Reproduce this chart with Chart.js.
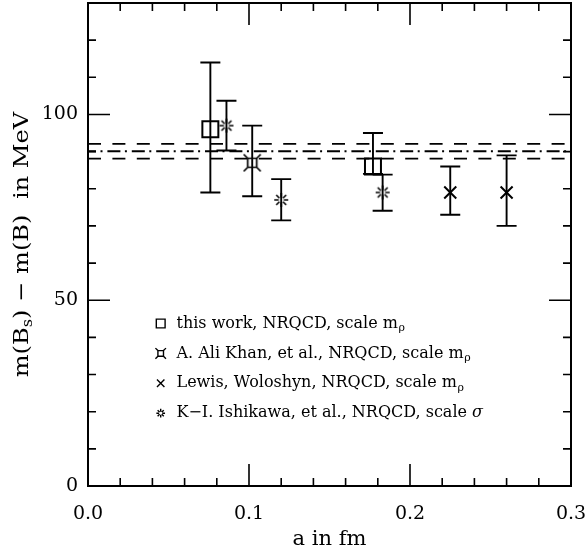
<!DOCTYPE html>
<html>
<head>
<meta charset="utf-8">
<script src="https://cdn.jsdelivr.net/npm/chart.js@4"></script>
<style>
  body { margin: 0; background: #fff; }
  #wrap { width: 588px; height: 555px; position: relative; }
</style>
</head>
<body>
<div id="wrap"><canvas id="chart"></canvas></div>
<script>
// m(Bs) - m(B) in MeV against lattice spacing a in fm
const thisWorkA = [0.076, 0.177];
const thisWorkVal = [96, 86];
const thisWorkHi = [114, 95];
const thisWorkLo = [79, 84];

const aliKhanA = [0.102];
const aliKhanVal = [87];
const aliKhanHi = [97];
const aliKhanLo = [78];

const lewisA = [0.225, 0.260];
const lewisVal = [79, 79];
const lewisHi = [86, 89];
const lewisLo = [73, 70];

const ishikawaA = [0.086, 0.120, 0.183];
const ishikawaVal = [97, 77, 79];
const ishikawaHi = [103.7, 82.6, 83.8];
const ishikawaLo = [90.3, 71.5, 74.1];

// experimental value with its band
const bandA = [0, 0.3];
const bandCentre = 90.1;
const bandHi = 92.1;
const bandLo = 88.1;

const legendLabels = [
    'this work, NRQCD, scale m',
    'A. Ali Khan, et al., NRQCD, scale m',
    'Lewis, Woloshyn, NRQCD, scale m',
    'K\u2212I. Ishikawa, et al., NRQCD, scale '
];
const legendSubs = ['\u03c1', '\u03c1', '\u03c1', ''];
const legendTails = ['', '', '', '\u03c3'];
const legendKinds = ['square', 'khan', 'cross', 'star'];

const xTitle = 'a in fm';
const yTitleParts = ['m(B', 's', ') \u2212 m(B)  in MeV'];

const xMajor = 0.1, xMinor = 0.02;
const yMajor = 50, yMinor = 10;

const FONT = 'DejaVu Serif';

function isMajor(v, step) {
    return Math.abs(v / step - Math.round(v / step)) < 1e-6;
}

function points(a, val, lo, hi) {
    return a.map((x, i) => ({ x, y: val[i], yMin: lo[i], yMax: hi[i] }));
}

function drawMarker(ctx, kind, x, y, s) {
    ctx.beginPath();
    if (kind === 'square') {
        ctx.rect(x - 8 * s, y - 8 * s, 16 * s, 16 * s);
    } else if (kind === 'khan') {
        const h = 4.5 * s, o = 8.5 * s;
        ctx.rect(x - h, y - h, 2 * h, 2 * h);
        [[-1, -1], [1, -1], [1, 1], [-1, 1]].forEach(([dx, dy]) => {
            ctx.moveTo(x + dx * h, y + dy * h);
            ctx.lineTo(x + dx * o, y + dy * o);
        });
    } else if (kind === 'cross') {
        const h = 6 * s;
        ctx.moveTo(x - h, y - h); ctx.lineTo(x + h, y + h);
        ctx.moveTo(x + h, y - h); ctx.lineTo(x - h, y + h);
    } else if (kind === 'star') {
        for (let k = 0; k < 8; k++) {
            const t = k * Math.PI / 4;
            ctx.moveTo(x + Math.cos(t) * 2.5 * s, y + Math.sin(t) * 2.5 * s);
            ctx.lineTo(x + Math.cos(t) * 7 * s, y + Math.sin(t) * 7 * s);
        }
    }
    ctx.stroke();
}

function markerCanvas(kind, width) {
    const c = document.createElement('canvas');
    c.width = 24;
    c.height = 24;
    const ctx = c.getContext('2d');
    ctx.strokeStyle = '#000';
    ctx.lineWidth = width;
    drawMarker(ctx, kind, 12, 12, 1);
    return c;
}

// frame with inward ticks on all four sides
const frame = {
    id: 'frame',
    beforeDatasetsDraw(chart) {
        const { ctx, chartArea: a, scales: { x, y } } = chart;
        ctx.save();
        ctx.strokeStyle = '#000';
        ctx.lineWidth = 2;
        ctx.strokeRect(a.left, a.top, a.right - a.left, a.bottom - a.top);
        ctx.lineWidth = 1.6;
        ctx.beginPath();
        x.ticks.forEach(t => {
            const px = x.getPixelForValue(t.value);
            const len = isMajor(t.value, xMajor) ? 22 : 8;
            ctx.moveTo(px, a.bottom); ctx.lineTo(px, a.bottom - len);
            ctx.moveTo(px, a.top); ctx.lineTo(px, a.top + len);
        });
        y.ticks.forEach(t => {
            const py = y.getPixelForValue(t.value);
            const len = isMajor(t.value, yMajor) ? 22 : 8;
            ctx.moveTo(a.left, py); ctx.lineTo(a.left + len, py);
            ctx.moveTo(a.right, py); ctx.lineTo(a.right - len, py);
        });
        ctx.stroke();
        ctx.restore();
    }
};

const errorBars = {
    id: 'errorBars',
    afterDatasetsDraw(chart) {
        const { ctx, scales: { x, y } } = chart;
        ctx.save();
        ctx.strokeStyle = '#000';
        ctx.lineWidth = 1.9;
        chart.data.datasets.forEach(ds => {
            if (!ds.errorBars) return;
            ds.data.forEach(p => {
                const px = x.getPixelForValue(p.x);
                const top = y.getPixelForValue(p.yMax);
                const bot = y.getPixelForValue(p.yMin);
                ctx.beginPath();
                ctx.moveTo(px, top); ctx.lineTo(px, bot);
                ctx.moveTo(px - 10, top); ctx.lineTo(px + 10, top);
                ctx.moveTo(px - 10, bot); ctx.lineTo(px + 10, bot);
                ctx.stroke();
            });
        });
        ctx.restore();
    }
};

const legendBox = {
    id: 'legendBox',
    afterDraw(chart) {
        const ctx = chart.ctx;
        ctx.save();
        ctx.strokeStyle = '#000';
        ctx.fillStyle = '#000';
        ctx.textBaseline = 'middle';
        legendLabels.forEach((text, i) => {
            const y = 323.5 + i * 29.9;
            ctx.lineWidth = 1.4;
            drawMarker(ctx, legendKinds[i], 160.7, y, legendKinds[i] === 'square' ? 0.55 : 0.62);
            ctx.save();
            ctx.translate(176.5, y);
            ctx.font = '16px "' + FONT + '"';
            ctx.fillText(text, 0, 0);
            let w = ctx.measureText(text).width;
            if (legendSubs[i]) {
                ctx.font = '11px "' + FONT + '"';
                ctx.fillText(legendSubs[i], w + 0.5, 5);
                w += ctx.measureText(legendSubs[i]).width;
            }
            if (legendTails[i]) {
                ctx.font = 'italic 16px "' + FONT + '"';
                ctx.fillText(legendTails[i], w, 0);
            }
            ctx.restore();
        });
        ctx.restore();
    }
};

const yTitle = {
    id: 'yTitle',
    afterDraw(chart) {
        const { ctx, chartArea } = chart;
        const sizes = [21, 14, 21];
        const shifts = [0, 5, 0];
        ctx.save();
        ctx.fillStyle = '#000';
        ctx.textBaseline = 'middle';
        ctx.translate(23, (chartArea.top + chartArea.bottom) / 2);
        ctx.rotate(-Math.PI / 2);
        ctx.scale(1.15, 1);
        let total = 0;
        yTitleParts.forEach((t, i) => {
            ctx.font = sizes[i] + 'px "' + FONT + '"';
            total += ctx.measureText(t).width;
        });
        let x = -total / 2;
        yTitleParts.forEach((t, i) => {
            ctx.font = sizes[i] + 'px "' + FONT + '"';
            ctx.fillText(t, x, shifts[i]);
            x += ctx.measureText(t).width;
        });
        ctx.restore();
    }
};

function bandLine(value, dash, offset) {
    return {
        type: 'scatter',
        showLine: true,
        data: bandA.map(a => ({ x: a, y: value })),
        borderColor: '#000',
        borderWidth: 1.8,
        borderDash: dash,
        borderDashOffset: offset,
        pointRadius: 0
    };
}

function main() {
    Chart.defaults.font.family = FONT;
    Chart.defaults.color = '#000';

    const datasets = [
        bandLine(bandHi, [13, 11.4], 0),
        bandLine(bandCentre, [13, 4.5, 2, 4.9], 5),
        bandLine(bandLo, [13, 11.4], 0),
        {
            label: legendLabels[0],
            data: points(thisWorkA, thisWorkVal, thisWorkLo, thisWorkHi),
            errorBars: true,
            pointStyle: 'rect',
            pointRadius: 11.3,
            borderWidth: 2,
            borderColor: '#000',
            backgroundColor: 'transparent'
        },
        {
            label: legendLabels[1],
            data: points(aliKhanA, aliKhanVal, aliKhanLo, aliKhanHi),
            errorBars: true,
            pointStyle: markerCanvas('khan', 1.7)
        },
        {
            label: legendLabels[2],
            data: points(lewisA, lewisVal, lewisLo, lewisHi),
            errorBars: true,
            pointStyle: 'crossRot',
            pointRadius: 8.5,
            borderWidth: 2,
            borderColor: '#000'
        },
        {
            label: legendLabels[3],
            data: points(ishikawaA, ishikawaVal, ishikawaLo, ishikawaHi),
            errorBars: true,
            pointStyle: markerCanvas('star', 1.6)
        }
    ];

    new Chart(document.getElementById('chart'), {
        type: 'scatter',
        data: { datasets },
        options: {
            responsive: true,
            maintainAspectRatio: false,
            animation: false,
            layout: { autoPadding: false, padding: { top: 3, right: 17, left: 0, bottom: 0 } },
            plugins: {
                legend: { display: false },
                tooltip: { enabled: false }
            },
            scales: {
                x: {
                    type: 'linear',
                    min: 0,
                    max: 0.3,
                    grid: { display: false, drawTicks: false },
                    border: { display: false },
                    ticks: {
                        stepSize: xMinor,
                        autoSkip: false,
                        maxRotation: 0,
                        padding: 17,
                        font: { size: 19 },
                        callback: v => isMajor(v, xMajor) ? v.toFixed(1) : ''
                    },
                    title: {
                        display: true,
                        text: xTitle,
                        font: { size: 21 },
                        padding: { top: 0, bottom: 3 }
                    },
                    afterFit(scale) {
                        scale.height = 69;
                        scale.paddingLeft = 0;
                        scale.paddingRight = 0;
                    }
                },
                y: {
                    type: 'linear',
                    min: 0,
                    max: 130,
                    grid: { display: false, drawTicks: false },
                    border: { display: false },
                    ticks: {
                        stepSize: yMinor,
                        autoSkip: false,
                        padding: 10,
                        font: { size: 19 },
                        callback: v => isMajor(v, yMajor) ? String(v) : ''
                    },
                    afterFit(scale) {
                        scale.width = 88;
                        scale.paddingTop = 0;
                        scale.paddingBottom = 0;
                    }
                }
            }
        },
        plugins: [frame, errorBars, legendBox, yTitle]
    });
}

document.addEventListener('DOMContentLoaded', main);
</script>
</body>
</html>
